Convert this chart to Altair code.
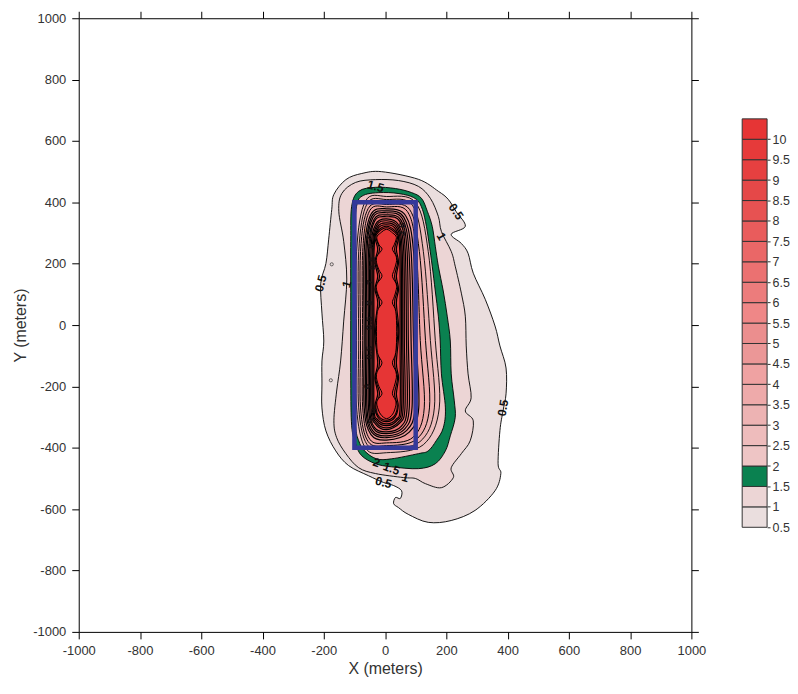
import altair as alt
import pandas as pd

# ---------------- axis / legend values ----------------
AXIS_TICKS = [-1000, -800, -600, -400, -200, 0, 200, 400, 600, 800, 1000]

LEVELS = [0.5, 1.0, 1.5, 2.0, 2.5, 3.0, 3.5, 4.0, 4.5, 5.0,
          5.5, 6.0, 6.5, 7.0, 7.5, 8.0, 8.5, 9.0, 9.5, 10.0]
LEVEL_COLORS = ["#EADEDE", "#ECD5D5", "#0A8150", "#EEC5C5", "#EEBCBC",
                "#EDB3B3", "#EEAAAA", "#EFA2A2", "#EB9797", "#EB8E8E",
                "#EF8787", "#EC7C7C", "#EB7171", "#EA6767", "#E95C5C",
                "#E75252", "#E54848", "#E64040", "#E63A3A", "#E63535"]
LEGEND_LO = [0.5, 1.0, 1.5, 2.0, 2.5, 3.0, 3.5, 4.0, 4.5, 5.0,
             5.5, 6.0, 6.5, 7.0, 7.5, 8.0, 8.5, 9.0, 9.5, 10.0]
LEGEND_HI = [1.0, 1.5, 2.0, 2.5, 3.0, 3.5, 4.0, 4.5, 5.0, 5.5,
             6.0, 6.5, 7.0, 7.5, 8.0, 8.5, 9.0, 9.5, 10.0, 10.5]
LEGEND_LABELS = [0.5, 1, 1.5, 2, 2.5, 3, 3.5, 4, 4.5, 5, 5.5, 6, 6.5, 7,
                 7.5, 8, 8.5, 9, 9.5, 10]

# ---------------- contour outlines (X, Y in meters) ----------------
C05 = [(-11, 500), (109, 475), (174, 436), (206, 410), (232, 370), (262, 322),
       (216, 296), (249, 266), (271, 234), (288, 169), (327, 84), (359, -3),
       (375, -68), (395, -140), (395, -224), (385, -280), (375, -344),
       (369, -452), (378, -484), (359, -540), (294, -604), (216, -637),
       (141, -643), (76, -617), (44, -595), (28, -582), (34, -562), (50, -565),
       (54, -540), (28, -523), (-5, -513), (-54, -491), (-119, -458),
       (-161, -410), (-193, -345), (-206, -270), (-206, -192), (-206, -117),
       (-200, -52), (-206, 39), (-210, 136), (-193, 201), (-184, 280),
       (-174, 377), (-167, 426), (-128, 474), (-76, 494)]
C10 = [(-31, 474), (44, 471), (109, 452), (148, 413), (174, 354), (184, 305),
       (216, 240), (229, 192), (249, 104), (262, 29), (265, -68), (271, -159),
       (281, -237), (262, -280), (288, -312), (278, -377), (249, -419),
       (216, -465), (223, -497), (184, -530), (132, -517), (99, -500),
       (60, -497), (-31, -484), (-86, -465), (-128, -419), (-158, -367),
       (-167, -312), (-158, -215), (-145, -117), (-135, 13), (-125, 150),
       (-135, 273), (-151, 371), (-141, 429), (-96, 465)]
C15 = [(-109, 387), (-86, 436), (-31, 449), (34, 445), (86, 432), (119, 413),
       (138, 371), (154, 322), (164, 257), (174, 192), (190, 111), (203, 29),
       (213, -52), (216, -159), (226, -247), (229, -302), (213, -361),
       (197, -410), (164, -452), (109, -468), (21, -462), (-31, -452),
       (-76, -426), (-96, -387), (-109, -328), (-112, -182), (-112, 78),
       (-112, 273)]
C20 = [(-93, 387), (-70, 423), (-5, 432), (60, 426), (102, 410), (122, 377),
       (135, 322), (145, 257), (154, 192), (164, 111), (174, 29), (180, -52),
       (184, -159), (197, -270), (190, -335), (167, -377), (141, -410),
       (109, -419), (21, -436), (-28, -436), (-67, -410), (-86, -377),
       (-96, -328), (-99, -182), (-99, 78), (-99, 273)]
C25 = [(5, 419), (100, 399), (141, 240), (164, -50), (177, -270), (125, -390),
       (5, -416), (-64, -401), (-93, -270), (-93, -50), (-93, 240), (-64, 404)]
C30 = [(5, 409), (89, 391), (125, 240), (148, -50), (161, -270), (114, -380),
       (5, -403), (-59, -389), (-86, -270), (-86, -50), (-86, 240), (-59, 395)]
C35 = [(5, 393), (80, 377), (112, 240), (132, -50), (145, -270), (103, -372),
       (5, -393), (-55, -380), (-80, -270), (-80, -50), (-80, 240), (-55, 380)]
C40 = [(5, 385), (73, 370), (102, 240), (115, -50), (128, -270), (91, -366),
       (5, -384), (-50, -372), (-73, -270), (-73, -50), (-73, 240), (-50, 373)]
C45 = [(5, 379), (67, 357), (93, 240), (102, -50), (110, -270), (79, -349),
       (5, -375), (-46, -357), (-68, -270), (-68, -50), (-68, 240), (-46, 361)]
C50 = [(5, 372), (61, 352), (85, 240), (93, -50), (98, -270), (70, -344),
       (5, -367), (-43, -350), (-63, -270), (-63, -50), (-63, 240), (-43, 355)]
C55 = [(5, 366), (56, 348), (78, 240), (85, -50), (88, -270), (63, -340),
       (5, -361), (-40, -345), (-59, -270), (-59, -50), (-59, 240), (-40, 350)]
C60 = [(5, 359), (52, 342), (72, 240), (76, -50), (79, -270), (57, -336),
       (5, -354), (-36, -339), (-54, -270), (-54, -50), (-54, 240), (-36, 344)]
C65 = [(5, 353), (48, 338), (66, 240), (70, -50), (72, -270), (52, -331),
       (5, -348), (-34, -334), (-50, -270), (-50, -50), (-50, 240), (-34, 339)]
C70 = [(5, 346), (44, 326), (61, 240), (63, -50), (65, -270), (47, -320),
       (5, -341), (-31, -323), (-46, -270), (-46, -50), (-46, 240), (-31, 328)]
C75 = [(5, 340), (41, 322), (56, 240), (58, -50), (59, -270), (43, -316),
       (5, -335), (-28, -319), (-42, -270), (-42, -50), (-42, 240), (-28, 324)]
C80 = [(5, 333), (38, 317), (52, 240), (54, -50), (54, -270), (39, -311),
       (5, -328), (-26, -313), (-39, -270), (-39, -50), (-39, 240), (-26, 318)]
C85 = [(5, 327), (35, 312), (48, 240), (49, -50), (49, -270), (36, -307),
       (5, -322), (-24, -308), (-36, -270), (-36, -50), (-36, 240), (-24, 313)]
C90 = [(5, 322), (32, 308), (44, 286), (37, 247), (44, 205), (37, 159),
       (44, 117), (37, 72), (45, -20), (37, -123), (44, -172), (37, -224),
       (43, -263), (32, -301), (5, -315), (-22, -302), (-33, -263),
       (-24, -224), (-33, -172), (-24, -123), (-34, -20), (-24, 72),
       (-33, 117), (-24, 159), (-33, 205), (-24, 247), (-33, 286), (-22, 309)]
C95 = [(5, 317), (30, 304), (41, 286), (31, 247), (41, 205), (31, 159),
       (41, 117), (31, 72), (42, -20), (31, -123), (41, -172), (31, -224),
       (40, -263), (30, -297), (5, -310), (-20, -298), (-30, -263),
       (-18, -224), (-31, -172), (-18, -123), (-31, -20), (-18, 72),
       (-30, 117), (-18, 159), (-30, 205), (-18, 247), (-30, 286), (-20, 305)]
C100 = [(5, 312), (25, 300), (37, 286), (30, 262), (24, 247), (36, 225),
        (37, 205), (30, 180), (24, 159), (36, 135), (37, 117), (30, 92),
        (24, 72), (35, 45), (38, -20), (35, -90), (24, -123), (35, -150),
        (37, -172), (30, -200), (24, -224), (34, -245), (35, -263), (25, -290),
        (5, -305), (-15, -290), (-26, -263), (-25, -245), (-10, -224),
        (-20, -200), (-28, -172), (-25, -150), (-10, -123), (-25, -90),
        (-28, -20), (-25, 45), (-10, 72), (-20, 92), (-28, 117), (-26, 135),
        (-10, 159), (-20, 180), (-28, 205), (-26, 225), (-10, 247),
        (-20, 262), (-27, 286), (-15, 300)]
CONTOURS = [C05, C10, C15, C20, C25, C30, C35, C40, C45, C50,
            C55, C60, C65, C70, C75, C80, C85, C90, C95, C100]
LINE_WIDTHS = [0.9, 0.9, 0.9, 0.9, 0.9, 0.9, 1.0, 1.0, 1.2, 1.2,
               1.2, 1.2, 1.2, 1.2, 1.2, 1.2, 1.2, 1.2, 1.1, 1.0]

# tiny closed loops of the 0.5 contour
LOOP_X = [-177, -174]
LOOP_Y = [-180, 198]

# source area rectangle
RECT_X = [-100, 100]
RECT_Y = [-400, 400]

# contour labels
LABEL_TEXT = ["0.5", "1", "1.5", "0.5", "1", "0.5", "2", "1.5", "1", "0.5"]
LABEL_X = [-210, -125, -31, 232, 184, 385, -28, 21, 66, -5]
LABEL_Y = [136, 133, 452, 370, 289, -270, -448, -468, -497, -513]
LABEL_ANGLE = [285, 285, 15, 55, 60, 280, 20, 20, 15, 15]

# crowded inner labels
INNER_TEXT = ["7.5", "8", "8.5", "9", "9.5", "8", "9", "3.5", "7", "8.5", "6"]
INNER_X = [-54, -47, -44, -54, -54, -37, -47, 55, -50, -52, -58]
INNER_Y = [296, 257, 201, 72, 6, -280, -312, 312, 140, -90, -200]

# ---------------- build chart ----------------
FONT = "Liberation Sans"
xs = alt.Scale(domain=[-1000, 1000], nice=False, zero=False)
ys = alt.Scale(domain=[-1000, 1000], nice=False, zero=False)

common_axis = dict(values=AXIS_TICKS, grid=False, tickSize=7, tickColor="black",
                   domainColor="black", tickWidth=1, domainWidth=1,
                   labelFont=FONT, labelFontSize=13, labelColor="#333333",
                   titleFont=FONT, titleFontSize=16, titleFontWeight="normal",
                   titleColor="#333333", labelFlush=False, labelOverlap=False,
                   labelExpr="'' + datum.value")
ax_bottom = alt.Axis(orient="bottom", title="X (meters)", labelPadding=6,
                     titlePadding=3, **common_axis)
ax_left = alt.Axis(orient="left", title="Y (meters)", labelPadding=6,
                   titlePadding=4, **common_axis)
ax_top = alt.Axis(orient="top", labels=False, title=None, **common_axis)
ax_right = alt.Axis(orient="right", labels=False, title=None, **common_axis)

rows = []
for lvl, poly in zip(LEVELS, CONTOURS):
    for i, (px, py) in enumerate(poly):
        rows.append({"level": lvl, "i": i, "x": px, "y": py})
cdf = pd.DataFrame(rows)

layers = []
for k, (lvl, col, lw) in enumerate(zip(LEVELS, LEVEL_COLORS, LINE_WIDTHS)):
    sub = cdf[cdf["level"] == lvl]
    layers.append(
        alt.Chart(sub).mark_line(interpolate="cardinal-closed", filled=True,
                                 fill=col, stroke="black", strokeWidth=lw)
        .encode(x=alt.X("x:Q", scale=xs, axis=ax_bottom if k == 0 else None),
                y=alt.Y("y:Q", scale=ys, axis=ax_left if k == 0 else None),
                order=alt.Order("i:Q"))
    )

loops = alt.Chart(pd.DataFrame({"x": LOOP_X, "y": LOOP_Y})).mark_point(
    shape="circle", size=10, filled=False, stroke="black", strokeWidth=0.8
).encode(x=alt.X("x:Q", scale=xs, axis=None), y=alt.Y("y:Q", scale=ys, axis=None))

rect = alt.Chart(pd.DataFrame({"x": [RECT_X[0]], "x2": [RECT_X[1]],
                               "y": [RECT_Y[0]], "y2": [RECT_Y[1]]})).mark_rect(
    filled=False, stroke="#35399A", strokeWidth=4.5
).encode(x=alt.X("x:Q", scale=xs, axis=ax_top), x2="x2:Q",
         y=alt.Y("y:Q", scale=ys, axis=ax_right), y2="y2:Q")

labels = alt.Chart(pd.DataFrame({"x": LABEL_X, "y": LABEL_Y, "t": LABEL_TEXT,
                                 "a": LABEL_ANGLE})).mark_text(
    font=FONT, fontSize=12, fontWeight="bold", color="#111111"
).encode(x=alt.X("x:Q", scale=xs, axis=None), y=alt.Y("y:Q", scale=ys, axis=None),
         text="t:N", angle=alt.Angle("a:Q", scale=None))

inner = alt.Chart(pd.DataFrame({"x": INNER_X, "y": INNER_Y, "t": INNER_TEXT})).mark_text(
    font=FONT, fontSize=10, fontWeight="bold", color="#1a1010", angle=270
).encode(x=alt.X("x:Q", scale=xs, axis=None), y=alt.Y("y:Q", scale=ys, axis=None),
         text="t:N")

main = alt.layer(*layers, loops, inner, rect, labels).resolve_axis(
    x="independent", y="independent").properties(width=615, height=616)

legend_df = pd.DataFrame({"lo": LEGEND_LO, "hi": LEGEND_HI, "color": LEVEL_COLORS})
legend = alt.Chart(legend_df).mark_rect(stroke="#333333", strokeWidth=1).encode(
    x=alt.value(0), x2=alt.value(25),
    y=alt.Y("lo:Q", scale=alt.Scale(domain=[-2.061, 12.963], nice=False, zero=False),
            axis=alt.Axis(orient="right", values=LEGEND_LABELS, format="~g",
                          domain=False, grid=False, tickSize=3, tickColor="#333333",
                          labelPadding=2, labelFont=FONT, labelFontSize=12.5,
                          labelColor="#333333", title=None, labelOverlap=False,
                          labelFlush=False)),
    y2="hi:Q",
    fill=alt.Fill("color:N", scale=None),
).properties(width=25, height=616)

chart = alt.hconcat(main, legend, spacing=35).properties(
    padding={"left": 4, "top": 1, "right": 0, "bottom": 0}
).configure_view(strokeWidth=0)

chart.save("out.html", embed_options={"renderer": "svg", "actions": False})
